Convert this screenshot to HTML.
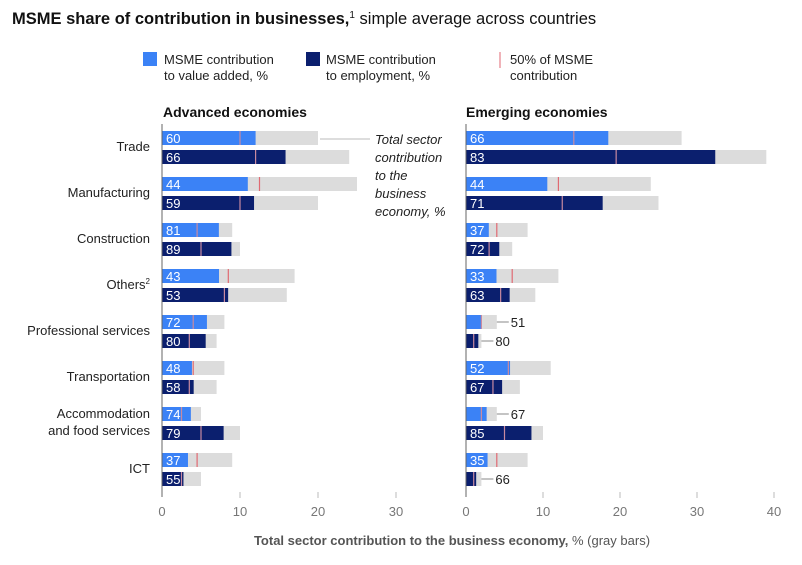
<!DOCTYPE html>
<html><head><meta charset="utf-8"><style>
body{margin:0;background:#fff;font-family:"Liberation Sans",sans-serif;}
svg text{font-family:"Liberation Sans",sans-serif;}
</style></head><body>
<svg id="c" width="802" height="560">
<text x="12" y="24" font-size="16.5" fill="#111"><tspan font-weight="bold">MSME share of contribution in businesses,</tspan><tspan font-size="10" dy="-6">1</tspan><tspan dy="6"> simple average across countries</tspan></text>
<g>
<rect x="143" y="52" width="14" height="14" fill="#3b82f6"/>
<text x="164" y="64" font-size="13" fill="#222">MSME contribution</text><text x="164" y="80" font-size="13" fill="#222">to value added, %</text>
<rect x="306" y="52" width="14" height="14" fill="#0b1f6e"/>
<text x="326" y="64" font-size="13" fill="#222">MSME contribution</text><text x="326" y="80" font-size="13" fill="#222">to employment, %</text>
<line x1="500" y1="52" x2="500" y2="68" stroke="#e6808a" stroke-width="1.2"/>
<text x="510" y="64" font-size="13" fill="#222">50% of MSME</text><text x="510" y="80" font-size="13" fill="#222">contribution</text>
</g>
<text x="163" y="117" font-size="14" font-weight="bold" fill="#111">Advanced economies</text>
<text x="466" y="117" font-size="14" font-weight="bold" fill="#111">Emerging economies</text>
<line x1="320" y1="139" x2="370" y2="139" stroke="#bbb"/>
<g font-size="13" font-style="italic" fill="#222">
<text x="375" y="144">Total sector</text><text x="375" y="162">contribution</text><text x="375" y="180">to the</text><text x="375" y="198">business</text><text x="375" y="216">economy, %</text></g>
<text x="452" y="545" font-size="13" fill="#555" text-anchor="middle"><tspan font-weight="bold">Total sector contribution to the business economy,</tspan> % (gray bars)</text>
<g id="plot"></g>
</svg>
<script>
const categories=["Trade","Manufacturing","Construction","Others","Professional services","Transportation","Accommodation|and food services","ICT"];
const advVATotal=[20,25,9,17,8,8,5,9];
const advVAPct=[60,44,81,43,72,48,74,37];
const advEmpTotal=[24,20,10,16,7,7,10,5];
const advEmpPct=[66,59,89,53,80,58,79,55];
const emgVATotal=[28,24,8,12,4,11,4,8];
const emgVAPct=[66,44,37,33,51,52,67,35];
const emgEmpTotal=[39,25,6,9,2,7,10,2];
const emgEmpPct=[83,71,72,63,80,67,85,66];
const advTicks=[0,10,20,30];
const emgTicks=[0,10,20,30,40];
const NS="http://www.w3.org/2000/svg";
const plot=document.getElementById('plot');
function mk(t,a,p){const e=document.createElementNS(NS,t);for(const k in a)e.setAttribute(k,a[k]);(p||plot).appendChild(e);return e;}
const advX=v=>162+v*7.8;
const emgX=v=>466+v*7.7;
const rowY=i=>131+i*46;
categories.forEach((c,i)=>{
  const parts=c.split("|");
  const t=mk('text',{x:150,y:parts.length>1?rowY(i)+11:rowY(i)+20,'font-size':13,fill:'#222','text-anchor':'end'});
  
  
  parts.forEach((p,j)=>{const s=mk('tspan',{x:150,dy:j?17:0},t);s.textContent=p;});
  if(c==="Others"){const s=mk('tspan',{'font-size':8,dy:-5},t);s.textContent="2";}
});
function bar(X,i,off,total,pct,color,name,outside){
  const y=rowY(i)+off,h=14;
  const g=mk('g',{});
  
  
  mk('rect',{x:X(0),y:y,width:X(total)-X(0),height:h,fill:'#dcdcdc'},g);
  const v=total*pct/100;
  mk('rect',{x:X(0),y:y,width:X(v)-X(0),height:h,fill:color},g);
  const m=total/2;
  mk('line',{x1:X(m),x2:X(m),y1:y,y2:y+h,stroke:m<v?'#c98aa0':'#e06a72','stroke-width':1.2},g);
  if(outside){
    mk('line',{x1:X(total),x2:X(total)+12,y1:y+7,y2:y+7,stroke:'#888'},g);
    const t=mk('text',{x:X(total)+14,y:y+12,'font-size':13,fill:'#222'},g);t.textContent=pct;
  }else{
    const t=mk('text',{x:X(0)+4,y:y+12,'font-size':13,fill:'#fff'},g);t.textContent=pct;
  }
}
categories.forEach((c,i)=>{
  bar(advX,i,0,advVATotal[i],advVAPct[i],'#3b82f6','adv-va-bar',false);
  bar(advX,i,19,advEmpTotal[i],advEmpPct[i],'#0b1f6e','adv-emp-bar',false);
  bar(emgX,i,0,emgVATotal[i],emgVAPct[i],'#3b82f6','emg-va-bar',emgVATotal[i]<5);
  bar(emgX,i,19,emgEmpTotal[i],emgEmpPct[i],'#0b1f6e','emg-emp-bar',emgEmpTotal[i]<5);
});
function axis(X,ticks,name){
  const g=mk('g',{});
  
  
  mk('line',{x1:X(0),x2:X(0),y1:124,y2:497,stroke:'#666'},g);
  ticks.forEach(v=>{
    if(v) mk('line',{x1:X(v),x2:X(v),y1:492,y2:498,stroke:'#bbb'},g);
    const t=mk('text',{x:X(v),y:516,'font-size':13,fill:'#777','text-anchor':'middle'},g);t.textContent=v;
  });
}
axis(advX,advTicks,'adv-x-axis');
axis(emgX,emgTicks,'emg-x-axis');
</script>
</body></html>
